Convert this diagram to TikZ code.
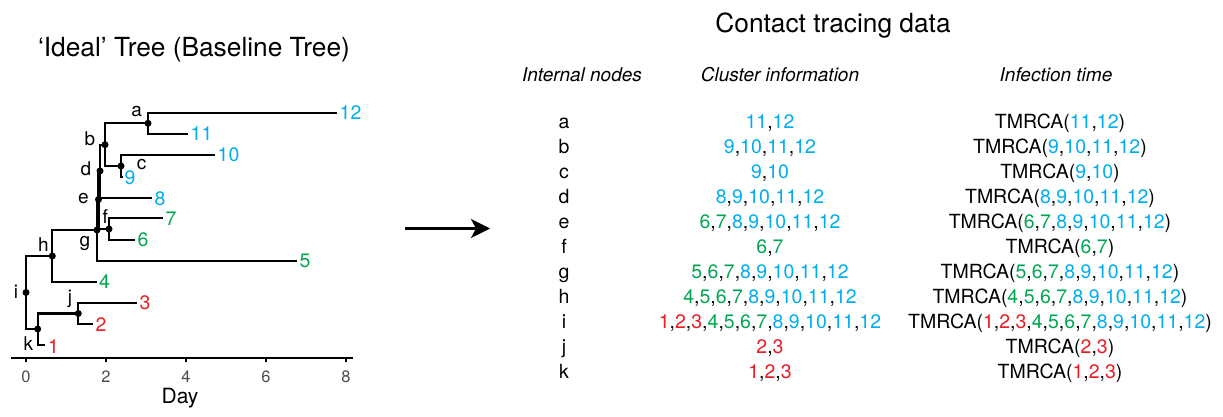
\documentclass[tikz,border=0pt]{standalone}
\usepackage{fontspec}
\setmainfont{TeX Gyre Heros}
\usetikzlibrary{arrows.meta}
\definecolor{cblue}{RGB}{0,174,239}
\definecolor{cgreen}{RGB}{0,166,81}
\definecolor{cred}{RGB}{237,28,36}
\definecolor{tickgray}{RGB}{77,77,77}
\newcommand\numcol[1]{\ifnum#1<4 \textcolor{cred}{#1}\else\ifnum#1<8 \textcolor{cgreen}{#1}\else\textcolor{cblue}{#1}\fi\fi}
\newcommand\numlist[1]{\edef\mylist{#1}\gdef\mysep{}\foreach \n in \mylist {\mysep\numcol{\n}\gdef\mysep{,}}}
\newcommand\fs[1]{\fontsize{#1}{#1}\selectfont}
\begin{document}
\begin{tikzpicture}[x=1pt,y=-1pt,
  branch/.style={line width=2.1pt},
  dot/.style={circle,fill=black,inner sep=0pt,minimum size=7pt},
  tiplab/.style={anchor=west,inner sep=0pt,font=\fs{19.5}},
  nodelab/.style={inner sep=0pt,font=\fs{19}},
  rowtxt/.style={anchor=base,inner sep=0pt,font=\fs{19.5}},
  hdr/.style={anchor=base,inner sep=0pt,font=\fs{19}\itshape},
  ttl/.style={anchor=base,inner sep=0pt,font=\fs{26.3}},
  ticklab/.style={inner sep=0pt,font=\fs{16.5},text=tickgray}]
\useasboundingbox (0,0) rectangle (1223,417);

% titles
\node[ttl] (lt) at (194,56.5) {‘Ideal’ Tree (Baseline Tree)};
\node[ttl] (rt) at (833,33) {Contact tracing data};

% internal node coordinates
\coordinate (a) at (148,123.3);
\coordinate (b) at (105,144.7);
\coordinate (c) at (121,166);
\coordinate (d) at (100,171);
\coordinate (e) at (98.5,199.5);
\coordinate (f) at (109,229);
\coordinate (g) at (97,230);
\coordinate (h) at (52.3,256);
\coordinate (i) at (26,292.5);
\coordinate (j) at (78.3,313.5);
\coordinate (k) at (37.7,329);
% tips
\coordinate (t12) at (337,113);
\coordinate (t11) at (188,133.7);
\coordinate (t10) at (215,155);
\coordinate (t9) at (123,176.7);
\coordinate (t8) at (152,198.3);
\coordinate (t7) at (163,218.3);
\coordinate (t6) at (135,240);
\coordinate (t5) at (297,260.7);
\coordinate (t4) at (97,281.7);
\coordinate (t3) at (137,302.7);
\coordinate (t2) at (93,324.3);
\coordinate (t1) at (45,345);

% branches
\draw[branch] (a) |- (t12);
\draw[branch] (a) |- (t11);
\draw[branch] (b) |- (a);
\draw[branch] (b) |- (c);
\draw[branch] (c) |- (t10);
\draw[branch] (c) |- (t9);
\draw[branch] (d) |- (b);
\draw[branch] (d) |- (t8);
\draw[branch] (e) |- (d);
\draw[branch] (e) |- (f);
\draw[branch] (f) |- (t7);
\draw[branch] (f) |- (t6);
\draw[branch] (g) |- (e);
\draw[branch] (g) |- (t5);
\draw[branch] (h) |- (g);
\draw[branch] (h) |- (t4);
\draw[branch] (i) |- (h);
\draw[branch] (i) |- (k);
\draw[branch] (k) |- (j);
\draw[branch] (k) |- (t1);
\draw[branch] (j) |- (t3);
\draw[branch] (j) |- (t2);

% dots
\foreach \p in {a,b,c,d,e,f,g,h,i,j,k} \node[dot] (dot\p) at (\p) {};

% node letters
\node[nodelab] (la) at (136.7,112) {a};
\node[nodelab] (lb) at (90,138.5) {b};
\node[nodelab] (lc) at (141.7,164.5) {c};
\node[nodelab] (ld) at (86,168.5) {d};
\node[nodelab] (le) at (83.3,198.5) {e};
\node[nodelab] (lf) at (105.3,216.5) {f};
\node[nodelab] (lg) at (85,243) {g};
\node[nodelab] (lh) at (43.3,244.5) {h};
\node[nodelab] (li) at (16,291.5) {i};
\node[nodelab] (lj) at (70,299) {j};
\node[nodelab] (lk) at (28.3,343.5) {k};

% tip labels
\node[tiplab,text=cblue] (n12) at ([xshift=2.5pt]t12) {12};
\node[tiplab,text=cblue] (n11) at ([xshift=2.5pt]t11) {11};
\node[tiplab,text=cblue] (n10) at ([xshift=2.5pt]t10) {10};
\node[tiplab,text=cblue] (n9) at ([xshift=1.5pt,yshift=-1pt]t9) {9};
\node[tiplab,text=cblue] (n8) at ([xshift=2.5pt]t8) {8};
\node[tiplab,text=cgreen] (n7) at ([xshift=2.5pt]t7) {7};
\node[tiplab,text=cgreen] (n6) at ([xshift=2.5pt]t6) {6};
\node[tiplab,text=cgreen] (n5) at ([xshift=2.5pt]t5) {5};
\node[tiplab,text=cgreen] (n4) at ([xshift=2pt]t4) {4};
\node[tiplab,text=cred] (n3) at ([xshift=2.5pt]t3) {3};
\node[tiplab,text=cred] (n2) at ([xshift=2.5pt]t2) {2};
\node[tiplab,text=cred] (n1) at ([xshift=3pt,yshift=-2pt]t1) {1};

% axis
\coordinate (ax0) at (11,357.7);
\coordinate (ax1) at (353,357.7);
\draw[line width=2.1pt] (ax0) -- (ax1);
\foreach \d/\xx in {0/26,2/106,4/186,6/266,8/346}{
  \coordinate (tk\d) at (\xx,357.7);
  \draw[line width=1.4pt] (tk\d) -- ++(0,4.5);
  \node[ticklab] (tl\d) at (\xx,376.7) {\d};
}
\node[inner sep=0pt,font=\fs{21}] (day) at (180,398) {Day};

% arrow
\coordinate (ar0) at (405,228.5);
\coordinate (ar1) at (490,228.5);
\draw[line width=2.2pt,-{Stealth[length=19pt,width=19pt,inset=5pt]}] (ar0) -- (ar1);

% headers
\node[hdr] (h1) at (582,81.5) {Internal nodes};
\node[hdr] (h2) at (780,81.5) {Cluster information};
\node[hdr] (h3) at (1056,81.5) {Infection time};

% rows
\foreach \lab/\lst [count=\r from 0] in {
  a/{11,12},
  b/{9,10,11,12},
  c/{9,10},
  d/{8,9,10,11,12},
  e/{6,7,8,9,10,11,12},
  f/{6,7},
  g/{5,6,7,8,9,10,11,12},
  h/{4,5,6,7,8,9,10,11,12},
  i/{1,2,3,4,5,6,7,8,9,10,11,12},
  j/{2,3},
  k/{1,2,3}}{
  \pgfmathsetmacro\yy{128.5+25*\r}
  \node[rowtxt] (rn\lab) at (564,\yy) {\lab};
  \node[rowtxt] (rc\lab) at (770,\yy) {\numlist{\lst}};
  \node[rowtxt] (ri\lab) at (1060,\yy) {TMRCA(\numlist{\lst})};
}
\end{tikzpicture}
\end{document}
